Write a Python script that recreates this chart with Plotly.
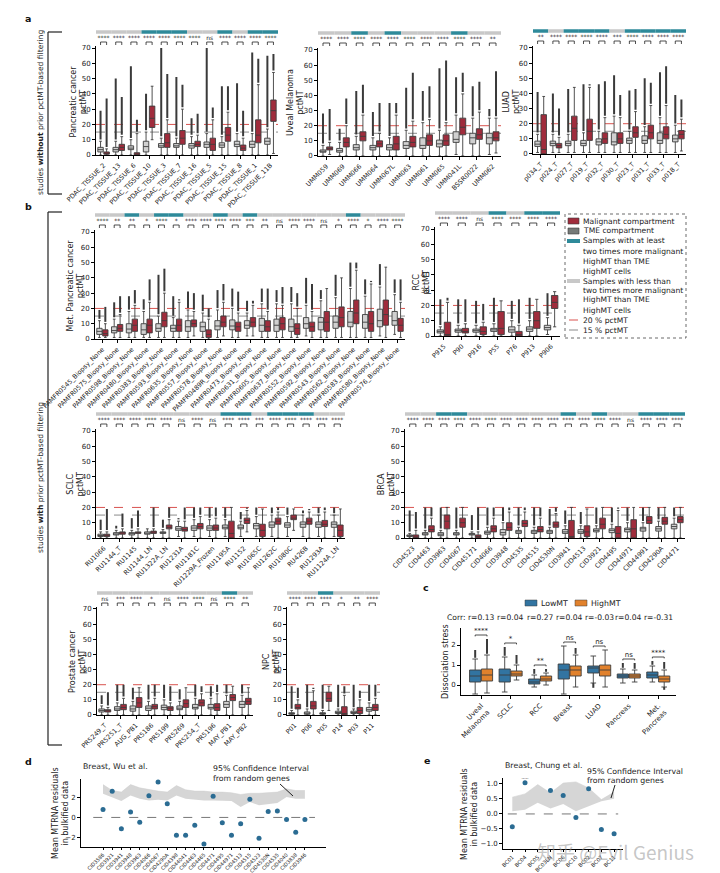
import plotly.graph_objects as go

W, H = 720, 873
FONT = "DejaVu Sans"
RED = "#a02c3c"
TME_FILL = "#d0d0d0"
TEAL = "#2e8a9a"
LIGHT = "#c8c8c8"
EDGE = "#3d3d3d"
BLUE = "#3274a1"
ORANGE = "#e1812c"
DOT = "#2b6c93"

# ---------------- data (stats rows: [lower whisker, q1, median, q3, upper whisker, max outlier]) ----------------
PDAC_NAMES = ["PDAC_TISSUE_2", "PDAC_TISSUE_13", "PDAC_TISSUE_6", "PDAC_TISSUE_10", "PDAC_TISSUE_3", "PDAC_TISSUE_7",
              "PDAC_TISSUE_16", "PDAC_TISSUE_5", "PDAC_TISSUE_15", "PDAC_TISSUE_8", "PDAC_TISSUE_1", "PDAC_TISSUE_11B"]
PDAC_FLAG = [0, 0, 0, 1, 1, 1, 0, 0, 1, 0, 1, 1]
PDAC_SIG = ["****", "****", "****", "****", "****", "****", "****", "ns", "****", "****", "****", "****"]
PDAC_TME = [[0, 2, 3.5, 5, 9, 29], [0, 2, 3.5, 5, 9, 50], [0, 3.5, 4.5, 6, 10, 58], [0, 2, 5.5, 9, 15, 40],
            [0, 5, 6, 7.5, 11, 70], [0, 5, 6, 7.5, 11, 51], [0, 4.5, 6, 7.5, 12, 24], [0, 5, 7, 8.5, 14, 70],
            [0, 5, 6.5, 8, 12, 45], [0, 5.5, 7, 9, 14, 47], [0, 5, 7, 9, 14, 67], [0, 7, 9, 11, 17, 65]]
PDAC_MAL = [[0, 0.5, 1, 2, 4, 37], [0, 3, 5, 7, 12, 38], [0, 0, 0.5, 1.5, 14, 23], [10, 18, 24, 32, 45, 45],
            [0, 5, 8, 14, 23, 53], [0, 7, 11, 16, 30, 46], [0, 5.5, 7, 9, 13, 27], [0, 3, 7, 11, 23, 31],
            [0, 9, 13, 18, 28, 45], [0, 3, 4.5, 6.5, 11, 29], [0, 8, 13, 23, 46, 63], [1, 22, 29, 36, 54, 66]]

UM_NAMES = ["UMM059", "UMM069", "UMM066", "UMM064", "UMM067L", "UMM063", "UMM061", "UMM065", "UMM041L", "BSSR0022", "UMM062"]
UM_FLAG = [0, 0, 1, 0, 1, 0, 0, 0, 1, 0, 0]
UM_SIG = ["****"] * 10 + ["**"]
UM_TME = [[0, 2.5, 3, 4, 7, 28], [0, 2.5, 3.5, 5, 9, 18], [0, 4, 5.5, 7.5, 13, 43], [0, 4, 5.5, 7, 12, 29],
          [0, 4, 5.5, 7.5, 12, 35], [0, 5, 7, 9.5, 17, 45], [0, 5, 7, 12, 22, 43], [0, 6, 8, 10.5, 17, 58],
          [1, 9, 11, 16, 27, 52], [0, 8, 12, 15, 25, 46], [1, 8, 12, 15, 25, 31]]
UM_MAL = [[1, 4, 5, 6, 9, 31], [0, 6, 9, 12, 20, 38], [0, 10, 13, 16, 27, 47], [0, 6, 8, 10, 15, 35],
          [0, 4, 8, 13, 27, 35], [0, 6, 9, 13, 23, 55], [0, 7, 10, 14, 24, 46], [0, 7, 10, 14, 22, 63],
          [0, 14, 19, 25, 41, 55], [0, 11, 14, 18, 29, 49], [2, 10, 12, 16, 25, 56]]

LUAD_NAMES = ["p034_T", "p024_T", "p027_T", "p019_T", "p032_T", "p030_T", "p023_T", "p031_T", "p033_T", "p018_T"]
LUAD_FLAG = [1, 0, 1, 1, 1, 0, 1, 1, 1, 1]
LUAD_SIG = ["**", "****", "****", "****", "****", "***", "****", "****", "****", "****"]
LUAD_TME = [[1, 5, 6.5, 8.5, 13, 41], [1, 5.5, 7, 8.5, 13, 40], [1, 5.5, 7, 8.5, 13, 43], [1, 5.5, 7, 9, 14, 46],
            [1, 6, 8, 10, 15, 46], [1, 6, 8, 14, 25, 52], [1, 7, 9, 10.5, 15, 42], [1, 7, 9, 12, 18, 50],
            [1, 7, 9, 14, 24, 54], [1, 8, 10, 12.5, 19, 39]]
LUAD_MAL = [[0, 0, 3, 26, 38, 38], [1, 4, 5.5, 7, 11, 30], [1, 9, 17, 25, 44, 44], [1, 9, 15, 23, 44, 46],
            [1, 7, 10, 14, 24, 48], [1, 7, 10, 14, 24, 39], [1, 11, 14, 18, 28, 43], [1, 10, 14, 19, 32, 47],
            [1, 10, 13, 18, 32, 58], [2, 10, 13, 15.5, 23, 36]]

MP_NAMES = ["PAMFR0545_Biopsy_None", "PAMFR0575_Biopsy_None", "PAMFR0598_Biopsy_None", "PAMFR0480_Biopsy_None",
            "PAMFR0383_Biopsy_None", "PAMFR0593_Biopsy_None", "PAMFR0635_Biopsy_None", "PAMFR0557_Biopsy_None",
            "PAMFR0578_Biopsy_None", "PAMFR0489R_Biopsy_None", "PAMFR0473_Biopsy_None", "PAMFR0631_Biopsy_None",
            "PAMFR0605_Biopsy_None", "PAMFR0637_Biopsy_None", "PAMFR0552_Biopsy_None", "PAMFR0592_Biopsy_None",
            "PAMFR0543_Biopsy_None", "PAMFR0562_Biopsy_None", "PAMFR0583_Biopsy_None", "PAMFR0580_Biopsy_None",
            "PAMFR0576_Biopsy_None"]
MP_FLAG = [0, 0, 1, 0, 1, 1, 0, 0, 1, 0, 1, 0, 0, 0, 0, 0, 0, 1, 0, 0, 0]
MP_SIG = ["****", "**", "**", "*", "****", "*", "****", "****", "****", "****", "***", "**", "ns", "****", "****",
          "ns", "*", "****", "*", "****", "****"]
MP_TME = [[1, 3, 5, 7, 12, 19], [1, 4, 5.5, 8, 13, 24], [1, 4, 6.5, 10, 18, 28], [1, 3, 6, 10, 18, 26],
          [1, 5, 7, 10, 15, 42], [1, 5, 7, 9, 14, 28], [1, 5, 8, 12, 19, 31], [1, 5, 8, 11, 17, 29],
          [1, 6, 8.5, 12, 19, 32], [1, 6, 8.5, 12.5, 20, 33], [2, 7, 9, 12, 17, 25], [1, 5, 9, 13.5, 23, 33],
          [1, 5, 9, 13, 23, 32], [1, 5, 8, 13, 23, 34], [2, 7, 10, 14, 22, 40], [1, 6, 11, 14, 25, 32],
          [1, 7, 11, 15, 27, 42], [1, 8, 11, 18, 33, 50], [1, 7, 11, 16, 28, 39], [2, 8, 12, 19.5, 34, 49],
          [3, 9, 12, 18, 29, 39]]
MP_MAL = [[1, 2, 3.5, 6, 10, 21], [1, 5, 7, 9.5, 16, 28], [1, 5, 9, 13, 22, 32], [1, 4, 9, 13, 24, 39],
          [1, 8, 12, 17.5, 30, 46], [1, 5, 9, 13, 24, 26], [2, 8, 10, 12.5, 18, 30], [0, 1, 3, 6, 13, 20],
          [2, 8, 11, 15, 24, 36], [1, 5, 8, 11, 17, 31], [2, 8, 11, 14, 22, 25], [1, 5, 8, 12, 18, 33],
          [1, 6, 10, 14, 22, 34], [1, 3, 7, 10, 20, 30], [1, 5, 8, 11, 18, 36], [1, 5, 11, 18, 33, 33],
          [1, 8, 14, 21, 40, 41], [1, 10, 17, 25.5, 45, 50], [1, 5, 10, 18, 36, 38], [1, 9, 16, 25.5, 47, 47],
          [1, 5, 9, 13.5, 24, 39]]

RCC_NAMES = ["P915", "P90", "P916", "P55", "P76", "P913", "P906"]
RCC_FLAG = [0, 0, 0, 1, 0, 1, 1]
RCC_SIG = ["****", "****", "ns", "****", "****", "****", "****"]
RCC_TME = [[0, 2, 3, 4, 6, 24], [0, 2.5, 3.5, 4.5, 7, 24], [0, 2.5, 3.5, 4.5, 7, 23], [0, 3, 4, 5, 8, 25],
           [0, 2.5, 4, 6, 10, 23], [0, 3, 4.5, 6, 10, 25], [1, 4, 5.5, 7, 12, 28]]
RCC_MAL = [[0, 0, 1, 9, 22, 25], [0, 2, 3, 5, 8, 24], [0, 1, 3, 6, 9, 21], [0, 1, 5, 16, 23, 23],
           [0, 0, 1, 3, 7, 24], [0, 5, 10, 16, 24, 24], [6, 18, 22, 26.5, 29, 29]]

SCLC_NAMES = ["RU1066", "RU1144_T", "RU1145", "RU1144_LN", "RU1322A_LN", "RU1231A", "RU1181C", "RU1229A_Frozen",
              "RU1195A", "RU1152", "RU1065C", "RU1262C", "RU1080C", "RU426B", "RU1293A", "RU1124A_LN"]
SCLC_FLAG = [0, 0, 0, 0, 0, 0, 0, 0, 1, 1, 0, 1, 1, 1, 0, 0]
SCLC_SIG = ["****", "****", "****", "****", "****", "ns", "****", "ns", "****", "****", "***", "****", "****",
            "****", "****", "****"]
SCLC_TME = [[0, 1, 1.5, 2.5, 4, 12], [0, 2, 2.5, 3.5, 5, 8], [0, 2, 3, 3.5, 5, 13], [0, 2.5, 3, 4, 6, 7],
            [0, 3, 3.5, 4, 5.5, 12], [1, 5, 6, 7.5, 11, 13], [1, 5, 6.5, 8, 12, 20], [1, 5, 6.5, 8, 12, 20],
            [1, 6, 7, 8.5, 12, 20], [1, 6, 7, 8.5, 11, 17], [1, 6, 8, 9.5, 14, 20], [1, 7, 8.5, 10.5, 15, 20],
            [1, 7, 8.5, 10, 14, 20], [1, 7, 9, 10.5, 15, 18], [1, 7, 9, 10.5, 15, 20], [1, 7, 9, 10.5, 15, 20]]
SCLC_MAL = [[0, 1, 2, 2.5, 4, 19], [0, 2.5, 3.5, 4, 6, 16], [0, 3, 3.5, 4, 6, 18], [0, 3, 4, 4.5, 6, 20],
            [0, 6, 7, 8.5, 12, 20], [0, 4.5, 5.5, 7, 11, 20], [0, 6, 7.5, 9.5, 14, 20], [0, 5, 6.5, 8.5, 13, 20],
            [0, 0, 3, 11, 20, 20], [4, 9.5, 11.5, 13, 18, 20], [0, 1, 5, 9, 19, 19], [0, 9, 11, 13, 17, 20],
            [5, 12, 13, 15, 19, 19], [0, 9, 11, 13, 17, 19], [0, 7.5, 9, 11.5, 17, 20], [0, 1, 5, 8.5, 19, 19]]

BRCA_NAMES = ["CID4523", "CID4463", "CID3963", "CID4067", "CID45171", "CID4066", "CID3948", "CID4535", "CID4515",
              "CID4530N", "CID3941", "CID4513", "CID3921", "CID4495", "CID44971", "CID44991", "CID4290A", "CID4471"]
BRCA_FLAG = [0, 0, 1, 1, 0, 0, 0, 0, 0, 0, 1, 0, 1, 0, 0, 1, 1, 1]
BRCA_SIG = ["****"] * 14 + ["ns"] + ["****"] * 3
BRCA_TME = [[0, 1, 1.5, 2, 3, 18], [0, 2, 2.5, 3.5, 5, 20], [0, 1.5, 2.5, 3.5, 5, 20], [0, 2, 2.5, 3.5, 5, 20],
            [0, 2, 2.5, 3, 4, 15], [0, 2.5, 3.5, 4.5, 7, 20], [0, 2, 3.5, 5.5, 10, 20], [0, 3, 4, 5, 7, 20],
            [0, 3, 4, 5, 7, 20], [0, 3, 4, 5, 7, 19], [0, 3, 4, 5.5, 8, 18], [0, 3, 4, 5.5, 8, 17],
            [0, 4, 5, 6, 8, 20], [0, 3.5, 5, 6, 9, 20], [0, 4, 5.5, 6.5, 10, 20], [0, 4.5, 6, 7, 10, 20],
            [0, 4.5, 6, 7.5, 11, 20], [0, 6, 7.5, 9, 13, 20]]
BRCA_MAL = [[0, 0, 0.5, 2, 5, 17], [0, 4, 5.5, 8, 13, 20], [0, 6, 11, 15, 20, 20], [0, 7, 10, 13, 20, 20],
            [0, 0, 1, 2, 4, 20], [0, 4, 6, 8, 13, 20], [0, 5, 7, 10, 17, 20], [0, 7.5, 9.5, 11.5, 17, 20],
            [0, 4, 5.5, 7.5, 13, 20], [0, 7, 8.5, 10.5, 16, 20], [0, 0, 1, 11.5, 20, 20], [0, 1, 4, 8, 19, 19],
            [0, 6, 9, 13, 20, 20], [0, 0, 3, 7.5, 18, 20], [0, 0, 6, 12, 20, 20], [0, 9.5, 11.5, 14, 20, 20],
            [0, 9, 11, 13.5, 20, 20], [0, 10, 12, 14, 20, 20]]

PR_NAMES = ["PR5249_T", "PR5251_T", "AUG_PB1", "PR5186", "PR5199", "PR5269", "PR5254_T", "PR5196", "MAY_PB1", "MAY_PB2"]
PR_FLAG = [0, 0, 0, 0, 0, 0, 0, 0, 1, 0]
PR_SIG = ["ns", "***", "****", "*", "ns", "****", "****", "ns", "****", "**"]
PR_TME = [[0, 2, 3, 4, 6, 13], [0, 3, 4, 5.5, 8, 20], [0, 2.5, 4, 6, 9, 18], [0, 3, 4.5, 6, 9, 20],
          [0, 3.5, 5, 6.5, 10, 20], [0, 3.5, 4.5, 6, 9, 17], [0, 4, 5, 7, 11, 20], [0, 4, 5, 7, 11, 19],
          [0, 5, 7, 9, 13, 20], [0, 5, 7, 9, 13, 20]]
PR_MAL = [[0, 2, 3, 3.5, 5, 15], [0, 3.5, 5, 7, 11, 20], [0, 5, 8, 11.5, 18, 18], [0, 4, 5.5, 7, 11, 20],
          [0, 3, 4.5, 5.5, 8, 19], [0, 5, 7.5, 10, 18, 19], [0, 6, 8, 10, 14, 19], [0, 3, 5, 7.5, 14, 20],
          [0, 9.5, 11.5, 13.5, 19, 20], [0, 7, 9, 11, 18, 18]]

NPC_NAMES = ["P01", "P06", "P05", "P14", "P03", "P11"]
NPC_FLAG = [0, 0, 1, 0, 0, 0]
NPC_SIG = ["****", "****", "****", "*", "**", "****"]
NPC_TME = [[0, 0.5, 1, 1.5, 3, 19], [0, 0.5, 1, 2, 4, 20], [0, 0.5, 1, 1.5, 3, 20], [0, 1, 1.5, 2.5, 4, 20],
           [0, 1, 1.5, 2.5, 4, 20], [0, 2.5, 3.5, 5, 8, 20]]
NPC_MAL = [[0, 4, 5, 7, 10, 18], [0, 4, 6, 9, 16, 18], [3, 9, 11, 15, 19, 19], [0, 0, 1, 5.5, 13, 19],
           [0, 1, 3, 5, 10, 16], [0, 3, 5, 7, 11, 20]]

# panel c rows: [min outlier, lower whisker, q1, median, q3, upper whisker, max outlier]
C_GROUPS = ["Uveal<br>Melanoma", "SCLC", "RCC", "Breast", "LUAD", "Pancreas", "Met.<br>Pancreas"]
C_CORR = ["r=0.13", "r=0.04", "r=0.27", "r=0.04", "r=-0.03", "r=0.04", "r=-0.31"]
C_SIG = ["****", "*", "**", "ns", "ns", "ns", "****"]
C_LOW = [[-0.45, -0.45, 0.15, 0.45, 0.75, 1.3, 1.75], [-0.35, -0.35, 0.15, 0.5, 0.8, 1.4, 1.9],
         [-0.1, -0.1, 0.05, 0.15, 0.3, 0.5, 0.8], [-0.45, -0.45, 0.3, 0.75, 1.05, 1.95, 1.95],
         [-0.2, 0.1, 0.6, 0.85, 0.95, 1.45, 1.45], [0.1, 0.1, 0.35, 0.45, 0.55, 0.8, 1.1],
         [0.15, 0.15, 0.35, 0.5, 0.65, 0.95, 1.2]]
C_HIGH = [[-0.4, -0.4, 0.2, 0.5, 0.8, 1.5, 2.3], [0.25, 0.25, 0.45, 0.55, 0.7, 1.0, 1.5],
          [0.0, 0.0, 0.2, 0.3, 0.45, 0.6, 0.8], [-0.1, -0.1, 0.45, 0.75, 0.95, 1.5, 1.85],
          [-0.1, -0.1, 0.45, 0.75, 1.0, 1.75, 1.75], [0.15, 0.15, 0.35, 0.45, 0.55, 0.75, 1.1],
          [-0.3, -0.1, 0.15, 0.3, 0.45, 0.75, 1.15]]

D_NAMES = ["CID3586", "CID3921", "CID3941", "CID3948", "CID3963", "CID4066", "CID4067", "CID4290A", "CID4398",
           "CID44041", "CID4463", "CID4465", "CID4471", "CID4495", "CID44971", "CID4513", "CID4515", "CID4523",
           "CID4530N", "CID4535", "CID4040", "CID3838", "CID3946"]
D_RES = [0.8, 2.65, -1.15, 0.55, -0.5, 2.2, 3.6, 1.4, -1.8, -1.8, -0.8, -2.7, 2.15, -0.55, -1.8, -0.65, 1.85,
         -2.1, 0.6, 0.65, -0.2, -1.5, -0.2]
D_CI_HI = [3.33, 2.73, 2.57, 3.33, 3.0, 2.8, 2.67, 2.57, 3.23, 2.8, 2.67, 2.67, 2.57, 2.57, 2.5, 2.33, 2.45,
           2.45, 2.5, 2.57, 2.9, 2.73, 2.73]
D_CI_LO = [2.4, 2.0, 1.67, 2.23, 1.9, 1.73, 1.8, 1.73, 2.23, 1.9, 1.8, 1.73, 1.73, 1.67, 1.67, 1.07, 1.57,
           1.23, 1.33, 1.47, 2.07, 1.9, 1.9]
D_SIG = ["", "", "", "", "", "", "**"] + [""] * 16

E_NAMES = ["BC01", "BC04", "BC05", "BC03LN", "BC06", "BC10", "BC02", "BC07", "BC11"]
E_RES = [-0.43, 1.04, None, 0.78, 0.62, -0.12, 0.84, -0.52, -0.66]
E_CI_HI = [0.56, 0.67, 0.98, 0.7, 1.03, 1.07, 0.87, 0.48, 0.73]
E_CI_LO = [0.09, 0.14, 0.37, 0.18, 0.33, 0.09, 0.26, 0.42, 0.51]
E_SIG = ["", "**", "", "", "", "", "", "", ""]

# ---------------- helpers ----------------
fig = go.Figure()
shapes, annos, lay = [], [], {}


def X(p):
    return p / W


def Y(p):
    return 1 - p / H


def xn(k):
    return "x" if k == 1 else f"x{k}"


def yn(k):
    return "y" if k == 1 else f"y{k}"


def xkey(k):
    return "xaxis" if k == 1 else f"xaxis{k}"


def ykey(k):
    return "yaxis" if k == 1 else f"yaxis{k}"


def axis_style(size=7, ticklen=3):
    return dict(showline=True, linecolor="black", linewidth=1, ticks="outside", ticklen=ticklen, tickwidth=1,
                tickcolor="black", showgrid=False, zeroline=False, tickfont=dict(size=size, color="#222"))


def text(x, y, t, size=8, xanchor="center", yanchor="middle", angle=0, color="#222"):
    annos.append(dict(x=X(x), y=Y(y), xref="paper", yref="paper", text=t, showarrow=False,
                      font=dict(size=size, color=color, family=FONT), xanchor=xanchor, yanchor=yanchor,
                      textangle=angle))


def boxes(k, pos, stats, fill, width, off=0):
    fig.add_trace(go.Box(x=pos, lowerfence=[r[off + 0] for r in stats], q1=[r[off + 1] for r in stats],
                         median=[r[off + 2] for r in stats], q3=[r[off + 3] for r in stats],
                         upperfence=[r[off + 4] for r in stats], width=width, fillcolor=fill,
                         line=dict(color=EDGE, width=0.9), whiskerwidth=0.5, boxpoints=False,
                         xaxis=xn(k), yaxis=yn(k), showlegend=False, hoverinfo="skip"))


def outliers(k, pos, lo, hi, gap, width=2.0):
    xs, ys = [], []
    for p, a, b in zip(pos, lo, hi):
        if b - a > gap:
            xs += [p, p, None]
            ys += [a + gap, b, None]
    fig.add_trace(go.Scatter(x=xs, y=ys, mode="lines", line=dict(color="#3a3a3a", width=width),
                             xaxis=xn(k), yaxis=yn(k), showlegend=False, hoverinfo="skip"))


def box_panel(k, names, flags, sig, tme, mal, title, left, right, y0, y70, bar, title_x):
    n = len(names)
    s = (y0 - y70) / 70.0
    ytop = y70 - 1.0 * s
    ov_top = bar - 3
    xa, ya, yo = xn(k), yn(k), f"y{20 + k}"
    lay[xkey(k)] = dict(domain=[X(left), X(right)], range=[-0.5, n - 0.5], anchor=ya,
                        tickvals=list(range(n)), ticktext=names, tickangle=-45, **axis_style(6.5))
    lay[ykey(k)] = dict(domain=[Y(y0), Y(ytop)], range=[0, 71], anchor=xa,
                        tickvals=list(range(0, 71, 10)), **axis_style(7))
    lay[f"yaxis{20 + k}"] = dict(domain=[Y(ytop), Y(ov_top)], range=[0, ytop - ov_top], anchor=xa, visible=False)
    oy = lambda p: ytop - p
    pos_t = [i - 0.2 for i in range(n)]
    pos_m = [i + 0.2 for i in range(n)]
    shapes.append(dict(type="line", xref=f"{xa} domain", yref=ya, x0=0, x1=1, y0=20, y1=20, layer="below",
                       line=dict(color="#d9534f", width=1, dash="dash")))
    shapes.append(dict(type="line", xref=f"{xa} domain", yref=ya, x0=0, x1=1, y0=15, y1=15, layer="below",
                       line=dict(color="#8a8a8a", width=1, dash="dash")))
    boxes(k, pos_t, tme, TME_FILL, 0.36)
    boxes(k, pos_m, mal, RED, 0.36)
    outliers(k, pos_t, [r[4] for r in tme], [r[5] for r in tme], 1.2)
    outliers(k, pos_m, [r[4] for r in mal], [r[5] for r in mal], 1.2)
    fig.add_trace(go.Bar(x=list(range(n)), y=[3.5] * n, base=[oy(bar + 1.75)] * n, width=1,
                         marker=dict(color=[TEAL if f else LIGHT for f in flags], line=dict(width=0)),
                         xaxis=xa, yaxis=yo, showlegend=False, hoverinfo="skip"))
    bx, by = [], []
    for i in range(n):
        bx += [i - 0.2, i - 0.2, i + 0.2, i + 0.2, None]
        by += [oy(bar + 13), oy(bar + 10), oy(bar + 10), oy(bar + 13), None]
    fig.add_trace(go.Scatter(x=bx, y=by, mode="lines", line=dict(color="#222", width=0.8),
                             xaxis=xa, yaxis=yo, showlegend=False, hoverinfo="skip"))
    fig.add_trace(go.Scatter(x=list(range(n)), y=[oy(bar + 6.5)] * n, mode="text", text=sig,
                             textfont=dict(size=6, color="#222", family=FONT),
                             xaxis=xa, yaxis=yo, showlegend=False, hoverinfo="skip"))
    text(title_x, (y0 + y70) / 2, title, size=8, angle=-90)


# ---------------- box panels ----------------
box_panel(1, PDAC_NAMES, PDAC_FLAG, PDAC_SIG, PDAC_TME, PDAC_MAL, "Pancreatic cancer<br>pctMT", 88, 270, 147, 40, 24, 70)
box_panel(2, UM_NAMES, UM_FLAG, UM_SIG, UM_TME, UM_MAL, "Uveal Melanoma<br>pctMT", 310, 493, 148, 42, 25, 287)
box_panel(3, LUAD_NAMES, LUAD_FLAG, LUAD_SIG, LUAD_TME, LUAD_MAL, "LUAD<br>pctMT", 525, 678, 146, 40, 23, 504)
box_panel(4, MP_NAMES, MP_FLAG, MP_SIG, MP_TME, MP_MAL, "Met. Pancreatic cancer<br>pctMT", 87, 397, 331, 224, 207, 67)
box_panel(5, RCC_NAMES, RCC_FLAG, RCC_SIG, RCC_TME, RCC_MAL, "RCC<br>pctMT", 427, 552, 328, 221, 205, 413)
box_panel(6, SCLC_NAMES, SCLC_FLAG, SCLC_SIG, SCLC_TME, SCLC_MAL, "SCLC<br>pctMT", 88, 337, 530, 423, 406, 67)
box_panel(7, BRCA_NAMES, BRCA_FLAG, BRCA_SIG, BRCA_TME, BRCA_MAL, "BRCA<br>pctMT", 397, 677, 530, 423, 406, 378)
box_panel(8, PR_NAMES, PR_FLAG, PR_SIG, PR_TME, PR_MAL, "Prostate cancer<br>pctMT", 89, 245, 707, 601, 585, 69)
box_panel(9, NPC_NAMES, NPC_FLAG, NPC_SIG, NPC_TME, NPC_MAL, "NPC<br>pctMT", 279, 372, 707, 601, 585, 263)

# legend of panel b
shapes.append(dict(type="rect", xref="paper", yref="paper", x0=X(557), x1=X(678), y0=Y(330), y1=Y(206),
                   line=dict(color="#444", width=0.8, dash="dot")))
shapes.append(dict(type="rect", xref="paper", yref="paper", x0=X(560), x1=X(571), y0=Y(216), y1=Y(210),
                   fillcolor=RED, line=dict(color=EDGE, width=0.6)))
shapes.append(dict(type="rect", xref="paper", yref="paper", x0=X(560), x1=X(571), y0=Y(226), y1=Y(220),
                   fillcolor="#757a78", line=dict(color=EDGE, width=0.6)))
shapes.append(dict(type="line", xref="paper", yref="paper", x0=X(559), x1=X(572), y0=Y(233), y1=Y(233),
                   line=dict(color=TEAL, width=4)))
shapes.append(dict(type="line", xref="paper", yref="paper", x0=X(559), x1=X(572), y0=Y(273), y1=Y(273),
                   line=dict(color=LIGHT, width=4)))
shapes.append(dict(type="line", xref="paper", yref="paper", x0=X(561), x1=X(571), y0=Y(312), y1=Y(312),
                   line=dict(color="#d9534f", width=1, dash="dash")))
shapes.append(dict(type="line", xref="paper", yref="paper", x0=X(561), x1=X(571), y0=Y(322), y1=Y(322),
                   line=dict(color="#8a8a8a", width=1, dash="dash")))
for t, yy in [("Malignant compartment", 213), ("TME compartment", 223),
              ("Samples with at least", 233), ("two times more malignant", 243), ("HighMT than TME", 253),
              ("HighMT cells", 263), ("Samples with less than", 273), ("two times more malignant", 283),
              ("HighMT than TME", 292), ("HighMT cells", 302), ("20 % pctMT", 312), ("15 % pctMT", 322)]:
    text(573, yy, t, size=7.6, xanchor="left")

# ---------------- panel c ----------------
k = 10
ng = len(C_GROUPS)
lay["xaxis10"] = dict(domain=[X(453), X(668)], range=[-0.68, 6.6], anchor="y10", tickvals=list(range(ng)),
                      ticktext=C_GROUPS, tickangle=-45, **axis_style(7))
lay["yaxis10"] = dict(domain=[Y(687), Y(620)], range=[-0.5, 2.85], anchor="x10", tickvals=[0, 1, 2], **axis_style(7))
pl = [g - 0.2 for g in range(ng)]
ph = [g + 0.2 for g in range(ng)]
boxes(k, pl, C_LOW, BLUE, 0.38, off=1)
boxes(k, ph, C_HIGH, ORANGE, 0.38, off=1)
outliers(k, pl, [r[5] for r in C_LOW], [r[6] for r in C_LOW], 0.06, 2.0)
outliers(k, ph, [r[5] for r in C_HIGH], [r[6] for r in C_HIGH], 0.06, 2.0)
outliers(k, pl, [r[0] for r in C_LOW], [r[1] for r in C_LOW], 0.06, 2.0)
outliers(k, ph, [r[0] for r in C_HIGH], [r[1] for r in C_HIGH], 0.06, 2.0)
cbx, cby, stx, sty = [], [], [], []
for g in range(ng):
    top = max(C_LOW[g][6], C_HIGH[g][6]) + 0.2
    cbx += [g - 0.2, g - 0.2, g + 0.2, g + 0.2, None]
    cby += [top - 0.07, top, top, top - 0.07, None]
    stx.append(g)
    sty.append(top + 0.17)
fig.add_trace(go.Scatter(x=cbx, y=cby, mode="lines", line=dict(color="#222", width=0.8), xaxis="x10",
                         yaxis="y10", showlegend=False, hoverinfo="skip"))
fig.add_trace(go.Scatter(x=stx, y=sty, mode="text", text=C_SIG, textfont=dict(size=7, color="#222", family=FONT),
                         xaxis="x10", yaxis="y10", showlegend=False, hoverinfo="skip"))
text(437, 653, "Dissociation stress", size=8, angle=-90)
text(437, 609, "Corr:", size=7.6, xanchor="left")
for g, r in enumerate(C_CORR):
    annos.append(dict(x=g, xref="x10", y=Y(609), yref="paper", text=r, showarrow=False,
                      font=dict(size=7.6, color="#222", family=FONT), xanchor="center", yanchor="middle"))
shapes.append(dict(type="rect", xref="paper", yref="paper", x0=X(517), x1=X(529), y0=Y(598), y1=Y(592),
                   fillcolor=BLUE, line=dict(color=EDGE, width=0.5)))
shapes.append(dict(type="rect", xref="paper", yref="paper", x0=X(567), x1=X(579), y0=Y(598), y1=Y(592),
                   fillcolor=ORANGE, line=dict(color=EDGE, width=0.5)))
text(531, 595, "LowMT", size=7.8, xanchor="left")
text(581, 595, "HighMT", size=7.8, xanchor="left")

# ---------------- panel d ----------------
nd = len(D_NAMES)
xd = list(range(nd))
lay["xaxis11"] = dict(domain=[X(73), X(318)], range=[-2.4, 24.3], anchor="y11", tickvals=xd, ticktext=D_NAMES,
                      tickangle=-45, **axis_style(5, 2))
lay["yaxis11"] = dict(domain=[Y(839), Y(771)], range=[-3.0, 3.9], anchor="x11", tickvals=[-2, 0, 2], **axis_style(7))
fig.add_trace(go.Scatter(x=xd, y=D_CI_LO, mode="lines", line=dict(width=0, color="#cfcfcf"), xaxis="x11",
                         yaxis="y11", showlegend=False, hoverinfo="skip"))
fig.add_trace(go.Scatter(x=xd, y=D_CI_HI, mode="lines", line=dict(width=0.5, color="#cfcfcf"), fill="tonexty",
                         fillcolor="rgba(200,200,200,0.75)", xaxis="x11", yaxis="y11", showlegend=False,
                         hoverinfo="skip"))
shapes.append(dict(type="line", xref="x11 domain", yref="y11", x0=0.05, x1=0.955, y0=0, y1=0,
                   line=dict(color="#777", width=1, dash="dash")))
fig.add_trace(go.Scatter(x=xd, y=D_RES, mode="markers", marker=dict(size=5, color=DOT), xaxis="x11",
                         yaxis="y11", showlegend=False, hoverinfo="skip"))
fig.add_trace(go.Scatter(x=[i for i, s in enumerate(D_SIG) if s], y=[D_RES[i] + 0.75 for i, s in enumerate(D_SIG) if s],
                         mode="text", text=[s for s in D_SIG if s], textfont=dict(size=7, color="#222", family=FONT),
                         xaxis="x11", yaxis="y11", showlegend=False, hoverinfo="skip"))
text(73, 758, "Breast, Wu et al.", size=7.8, xanchor="left")
text(203, 760, "95% Confidence Interval", size=7.8, xanchor="left")
text(203, 770, "from random genes", size=7.8, xanchor="left")
shapes.append(dict(type="line", xref="paper", yref="paper", x0=X(272), x1=X(285), y0=Y(776), y1=Y(788),
                   line=dict(color="#222", width=1)))
text(52, 805, "Mean MTRNA residuals<br>in bulkified data", size=8, angle=-90)

# ---------------- panel e ----------------
ne = len(E_NAMES)
xe = list(range(ne))
lay["xaxis12"] = dict(domain=[X(495), X(615)], range=[-0.73, 8.7], anchor="y12", tickvals=xe, ticktext=E_NAMES,
                      tickangle=-45, **axis_style(5.3, 2))
lay["yaxis12"] = dict(domain=[Y(841), Y(770)], range=[-1.17, 1.2], anchor="x12",
                      tickvals=[-1.0, -0.5, 0.0, 0.5, 1.0], ticktext=["−1.0", "−0.5", "0.0", "0.5", "1.0"],
                      **axis_style(7))
fig.add_trace(go.Scatter(x=xe, y=E_CI_LO, mode="lines", line=dict(width=0, color="#cfcfcf"), xaxis="x12",
                         yaxis="y12", showlegend=False, hoverinfo="skip"))
fig.add_trace(go.Scatter(x=xe, y=E_CI_HI, mode="lines", line=dict(width=0.5, color="#cfcfcf"), fill="tonexty",
                         fillcolor="rgba(200,200,200,0.75)", xaxis="x12", yaxis="y12", showlegend=False,
                         hoverinfo="skip"))
shapes.append(dict(type="line", xref="x12 domain", yref="y12", x0=0.04, x1=0.96, y0=0, y1=0,
                   line=dict(color="#777", width=1, dash="dash")))
fig.add_trace(go.Scatter(x=xe, y=E_RES, mode="markers", marker=dict(size=5, color=DOT), xaxis="x12",
                         yaxis="y12", showlegend=False, hoverinfo="skip"))
fig.add_trace(go.Scatter(x=[i for i, s in enumerate(E_SIG) if s], y=[E_RES[i] + 0.12 for i, s in enumerate(E_SIG) if s],
                         mode="text", text=[s for s in E_SIG if s], textfont=dict(size=7, color="#222", family=FONT),
                         xaxis="x12", yaxis="y12", showlegend=False, hoverinfo="skip"))
text(495, 757, "Breast, Chung et al.", size=7.8, xanchor="left")
text(577, 763, "95% Confidence Interval", size=7.8, xanchor="left")
text(577, 772, "from random genes", size=7.8, xanchor="left")
shapes.append(dict(type="line", xref="paper", yref="paper", x0=X(607), x1=X(603), y0=Y(777), y1=Y(790),
                   line=dict(color="#222", width=1)))
text(461, 806, "Mean MTRNA residuals<br>in bulkified data", size=8, angle=-90)

# ---------------- brackets and panel letters ----------------
for top, bot in [(24, 186), (204, 737)]:
    shapes.append(dict(type="line", xref="paper", yref="paper", x0=X(40), x1=X(40), y0=Y(top), y1=Y(bot),
                       line=dict(color="#222", width=1.2)))
    shapes.append(dict(type="line", xref="paper", yref="paper", x0=X(40), x1=X(54), y0=Y(top), y1=Y(top),
                       line=dict(color="#222", width=1.2)))
    shapes.append(dict(type="line", xref="paper", yref="paper", x0=X(40), x1=X(54), y0=Y(bot), y1=Y(bot),
                       line=dict(color="#222", width=1.2)))
text(32, 105, "studies <b>without</b> prior pctMT-based filtering", size=7.6, angle=-90)
text(32, 470, "studies <b>with</b> prior pctMT-based filtering", size=7.6, angle=-90)
for letter, x, y in [("a", 20, 11), ("b", 20, 199), ("c", 418, 579), ("d", 20, 753), ("e", 419, 752)]:
    text(x, y, f"<b>{letter}</b>", size=9.5, color="#111")

# watermark
annos.append(dict(x=X(527), y=Y(843), xref="paper", yref="paper", text="知乎 @Evil Genius", showarrow=False,
                  font=dict(size=19, color="rgba(150,150,150,0.55)", family="Noto Sans CJK SC"),
                  xanchor="left", yanchor="middle"))

fig.update_layout(width=W, height=H, margin=dict(l=0, r=0, t=0, b=0), template="none",
                  paper_bgcolor="white", plot_bgcolor="rgba(0,0,0,0)", boxmode="overlay", barmode="overlay",
                  font=dict(family=FONT, size=7, color="#222"), showlegend=False,
                  shapes=shapes, annotations=annos, **lay)
fig.write_html("out.html")
